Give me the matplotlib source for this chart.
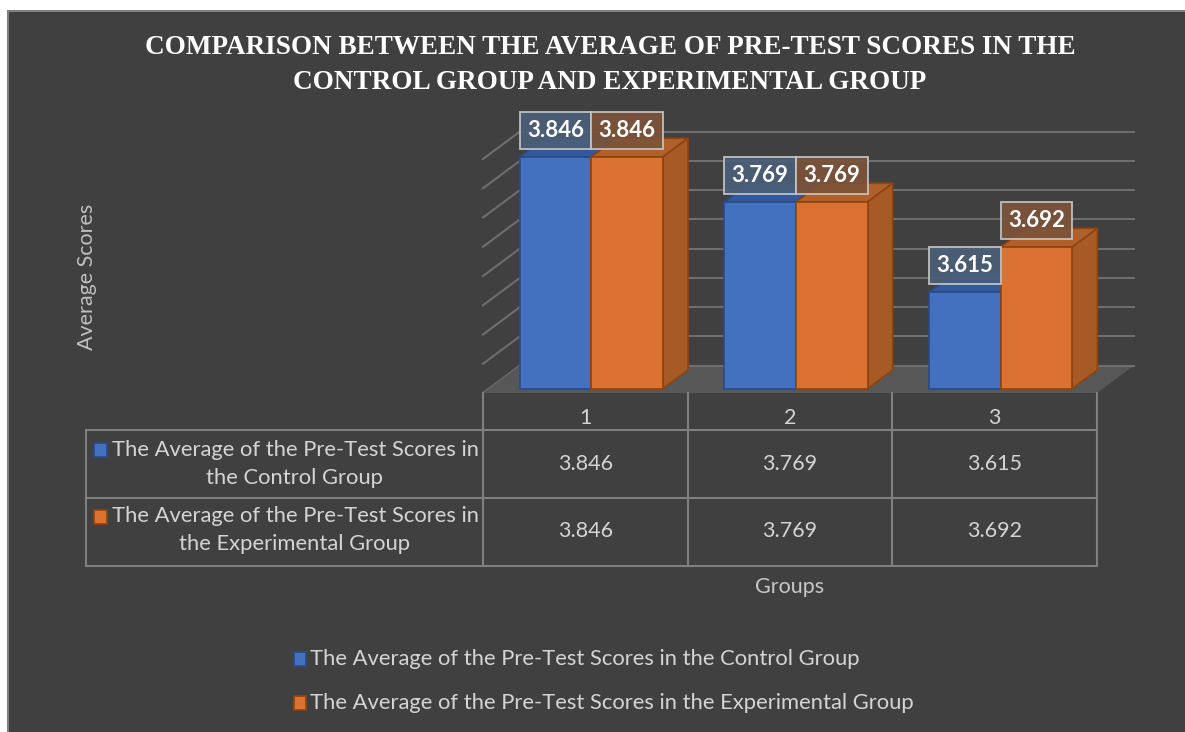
import textwrap
import matplotlib
matplotlib.use("Agg")
import matplotlib.pyplot as plt
import matplotlib.transforms as mtransforms
from matplotlib.patches import Rectangle, Polygon
from matplotlib.lines import Line2D

# data
groups = ["1", "2", "3"]
control = [3.846, 3.769, 3.615]
experimental = [3.846, 3.769, 3.692]
series_names = ["The Average of the Pre-Test Scores in the Control Group",
                "The Average of the Pre-Test Scores in the Experimental Group"]
title = ("COMPARISON BETWEEN THE AVERAGE OF PRE-TEST SCORES IN THE\n"
         "CONTROL GROUP AND EXPERIMENTAL GROUP")
y_min, y_max, y_step = 3.45, 3.85, 0.05

BG = "#404040"
GRID = "#6e6e6e"
TXT = "#d4d4d4"
FONT = "Lato"
front_cols = ["#4371c0", "#db7231"]
side_cols = ["#2f5597", "#a85a26"]
top_cols = ["#33599c", "#b0602a"]
edge_cols = ["#2a4b85", "#8f430f"]
box_cols = ["#4b5f78", "#7c5339"]

W, H = 1185, 732
fig = plt.figure(figsize=(W / 100, H / 100), dpi=100)
fig.patch.set_facecolor("white")


def fx(px):
    return px / W


def fy(py):
    return 1 - py / H


# chart area
fig.add_artist(Rectangle((fx(8), fy(H + 20)), 1.2, fy(11) - fy(H + 20),
                         transform=fig.transFigure, fc=BG, ec="#808080", lw=1.5, zorder=0))

# plot area: x data 0.5..3.5 spans the floor front edge
PX, PY = 204.67, 585.0   # pixels per data unit
x0_px, y0_px = 483, 393
x1_px, y1_px = 1160, 100
ax = fig.add_axes([fx(x0_px), fy(y0_px), fx(x1_px) - fx(x0_px), fy(y1_px) - fy(y0_px)])
ax.set_xlim(0.5, 0.5 + (x1_px - x0_px) / PX)
ax.set_ylim(y_min, y_min + (y0_px - y1_px) / PY)
ax.axis("off")
ax.patch.set_alpha(0)

DX, DY = 37 / PX, 27.5 / PY   # depth vector (front -> back wall)
d0, d1 = 0.16, 0.84           # bar depth range
n = len(groups)
xs = list(range(1, n + 1))
bw = 0.35

# walls
v = y_min
while v <= y_max + 1e-9:
    ax.add_line(Line2D([0.5 + DX, n + 0.5 + DX], [v + DY, v + DY], color=GRID, lw=1.5, zorder=1, clip_on=False))
    ax.add_line(Line2D([0.5, 0.5 + DX], [v, v + DY], color=GRID, lw=1.5, zorder=1, clip_on=False))
    v += y_step
ax.add_patch(Polygon([(0.5, y_min), (n + 0.5, y_min), (n + 0.5 + DX, y_min + DY), (0.5 + DX, y_min + DY)],
                     closed=True, fc="#575757", ec="none", zorder=1.5, clip_on=False))
ax.add_line(Line2D([0.5 + DX, n + 0.5 + DX], [y_min + DY, y_min + DY], color=GRID, lw=1.5, zorder=1.6))

# bars
for s, vals in enumerate([control, experimental]):
    lefts = [x - bw + s * bw for x in xs]
    for i, (xl, val) in enumerate(zip(lefts, vals)):
        z = 3 + 2 * i + s * 0.5
        xr = xl + bw
        top = [(xl + d0 * DX, val + d0 * DY), (xr + d0 * DX, val + d0 * DY),
               (xr + d1 * DX, val + d1 * DY), (xl + d1 * DX, val + d1 * DY)]
        side = [(xr + d0 * DX, y_min + d0 * DY), (xr + d1 * DX, y_min + d1 * DY),
                (xr + d1 * DX, val + d1 * DY), (xr + d0 * DX, val + d0 * DY)]
        ax.add_patch(Polygon(top, closed=True, fc=top_cols[s], ec=edge_cols[s], lw=1.2, zorder=z, clip_on=False))
        ax.add_patch(Polygon(side, closed=True, fc=side_cols[s], ec=edge_cols[s], lw=1.2, zorder=z, clip_on=False))
    bars = ax.bar([x + d0 * DX for x in lefts], [v - y_min for v in vals], bottom=y_min + d0 * DY,
                  width=bw, align="edge", color=front_cols[s], edgecolor=edge_cols[s], lw=1.2,
                  clip_on=False)
    for i, b in enumerate(bars):
        b.set_zorder(3.1 + 2 * i + s * 0.5)

# data labels
for s, vals in enumerate([control, experimental]):
    for x, val in zip(xs, vals):
        xl = x - bw + s * bw + d0 * DX
        yb = val + d0 * DY + 8 / PY
        hh = 37 / PY
        ax.add_patch(Rectangle((xl, yb), bw, hh, fc=box_cols[s], ec="#c8c8c8", lw=1.3,
                               alpha=0.92, zorder=20, clip_on=False))
        ax.text(xl + bw / 2, yb + hh / 2, f"{val:.3f}", ha="center", va="center", color="white",
                fontsize=16, fontweight="bold", family=FONT, zorder=21)

# data table
bt = mtransforms.blended_transform_factory(ax.transData, fig.transFigure)
for xb in [x - 0.5 for x in xs] + [n + 0.5]:
    fig.add_artist(Line2D([xb, xb], [fy(393), fy(566)], transform=bt, color="#808080", lw=1.5))
for yy in [430, 498, 566]:
    fig.add_artist(Line2D([fx(86), fx(1097)], [fy(yy), fy(yy)], transform=fig.transFigure,
                          color="#808080", lw=1.5))
fig.add_artist(Line2D([fx(86), fx(86)], [fy(430), fy(566)], transform=fig.transFigure, color="#808080", lw=1.5))

for x, g in zip(xs, groups):
    fig.text(x, fy(418), g, transform=bt, ha="center", va="center", color=TXT, fontsize=15.5, family=FONT)
for row, vals in zip([464, 531], [control, experimental]):
    for x, val in zip(xs, vals):
        fig.text(x, fy(row), f"{val:.3f}", transform=bt, ha="center", va="center",
                 color=TXT, fontsize=15.5, family=FONT)

for s, (name, row) in enumerate(zip(series_names, [463.5, 530.5])):
    fig.add_artist(Rectangle((fx(94), fy(row - 7)), fx(13), fy(row - 21) - fy(row - 7),
                             transform=fig.transFigure, fc=front_cols[s], ec=edge_cols[s], lw=1.2))
    fig.text(fx(295), fy(row), textwrap.fill(name, 37), ha="center", va="center", color=TXT,
             fontsize=15.8, family=FONT, linespacing=1.5)

# axis titles
fig.text(fx(87), fy(277), "Average Scores", rotation=90, ha="center", va="center",
         color="#bfbfbf", fontsize=15.5, family=FONT)
fig.text(fx(790), fy(587), "Groups", ha="center", va="center", color="#c8c8c8", fontsize=15.5, family=FONT)

# legend
for s, (name, row) in enumerate(zip(series_names, [659, 703])):
    fig.add_artist(Rectangle((fx(294), fy(row + 7)), fx(12), fy(row - 7) - fy(row + 7),
                             transform=fig.transFigure, fc=front_cols[s], ec=edge_cols[s], lw=1.2))
    fig.text(fx(310), fy(row), name, ha="left", va="center", color=TXT, fontsize=15.8, family=FONT)

# title
fig.text(fx(610), fy(65), title, ha="center", va="center", color="white", fontsize=19.5,
         fontweight="bold", family="Liberation Serif", linespacing=1.5)

fig.savefig("out.png", dpi=100, facecolor=fig.get_facecolor())
